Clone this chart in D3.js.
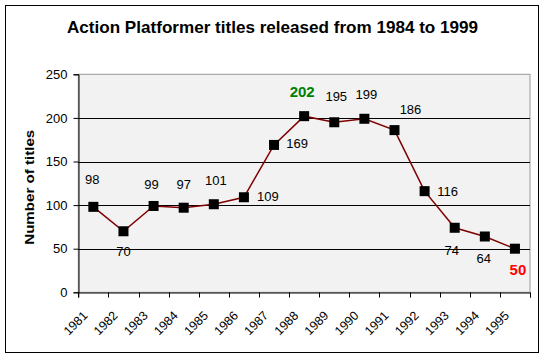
<!DOCTYPE html>
<html><head><meta charset="utf-8">
<script src="https://cdn.jsdelivr.net/npm/d3@7"></script>
<style>
html,body{margin:0;padding:0;background:#fff;}
svg{display:block;font-family:"Liberation Sans",Arial,sans-serif;}
</style></head>
<body>
<svg id="chart" width="546" height="359"></svg>
<script>
const years = ["1981","1982","1983","1984","1985","1986","1987","1988","1989","1990","1991","1992","1993","1994","1995"];
const titles = [98,70,99,97,101,109,169,202,195,199,186,116,74,64,50];
const yTicks = [0,50,100,150,200,250];
const chartTitle = "Action Platformer titles released from 1984 to 1999";
const yAxisTitle = "Number of titles";
// label placement offsets (layout only)
const labelOffsets = [[-1,-27],[0,20],[-2,-22],[0,-23],[2,-24],[24,-1],[23,-1],[-2,-24],[2,-26],[2,-24],[16,-21],[23,0],[-3,23],[-1,22],[3,21]];

const svg = d3.select("#chart");
const L = 78.3, R = 530, T = 74.3, B = 292.3;

svg.append("rect").attr("x",5.5).attr("y",5.5).attr("width",533).attr("height",347)
  .attr("fill","#fff").attr("stroke","#000").attr("stroke-width",1);

svg.append("text").attr("x",67).attr("y",33).attr("text-anchor","start")
  .attr("font-size",17).attr("font-weight","bold")
  .attr("textLength",411).attr("lengthAdjust","spacingAndGlyphs").text(chartTitle);

const x = d3.scaleBand().domain(years).range([L,R]).padding(0);
const y = d3.scaleLinear().domain([0,250]).range([B,T]);

svg.append("rect").attr("x",L).attr("y",T).attr("width",R-L).attr("height",B-T)
  .attr("fill","#f2f2f2").attr("stroke","#999").attr("stroke-width",1);

svg.append("g").selectAll("line").data(yTicks.filter(d=>d>0&&d<250)).join("line")
  .attr("x1",L).attr("x2",R).attr("y1",d=>Math.round(y(d))+0.5).attr("y2",d=>Math.round(y(d))+0.5)
  .attr("stroke","#000").attr("stroke-width",1);

const yAxis = svg.append("g").attr("transform",`translate(${Math.round(L)+0.5},0)`)
  .call(d3.axisLeft(y).tickValues(yTicks).tickSize(5).tickPadding(6));
yAxis.select(".domain").attr("stroke","#000");
yAxis.selectAll("text").attr("font-size",13).attr("fill","#000").attr("font-family","Liberation Sans, Arial, sans-serif");

const xAxis = svg.append("g").attr("transform",`translate(0,${Math.round(B)+0.5})`)
  .call(d3.axisBottom(x).tickSize(5).tickFormat(""));
xAxis.select(".domain").attr("stroke","#000");
xAxis.selectAll(".tick").remove();
const edges = years.map(d=>x(d)).concat([R]);
xAxis.selectAll("line.edge").data(edges).join("line").attr("class","edge")
  .attr("x1",d=>Math.round(d)+0.5).attr("x2",d=>Math.round(d)+0.5).attr("y1",0).attr("y2",5).attr("stroke","#000");

svg.append("g").selectAll("text").data(years).join("text")
  .attr("transform",d=>`translate(${x(d)+x.bandwidth()/2-5},${B+24}) rotate(-45)`)
  .attr("text-anchor","end").attr("font-size",12.5).text(d=>d);

svg.append("text").attr("transform",`translate(34,${(T+B)/2+4}) rotate(-90)`)
  .attr("text-anchor","middle").attr("font-size",13).attr("font-weight","bold")
  .attr("textLength",115).attr("lengthAdjust","spacingAndGlyphs").text(yAxisTitle);

const cx = (d,i)=>x(years[i])+x.bandwidth()/2;
const line = d3.line().x((d,i)=>cx(d,i)).y(d=>y(d));
svg.append("path").datum(titles).attr("d",line).attr("fill","none").attr("stroke","#800000").attr("stroke-width",1.5);

svg.append("g").selectAll("rect").data(titles).join("rect")
  .attr("x",(d,i)=>cx(d,i)-5).attr("y",d=>y(d)-5).attr("width",10).attr("height",10).attr("fill","#000");

const maxV = d3.max(titles), minV = d3.min(titles);
svg.append("g").selectAll("text").data(titles).join("text")
  .attr("x",(d,i)=>cx(d,i)+labelOffsets[i][0]).attr("y",(d,i)=>y(d)+labelOffsets[i][1])
  .attr("dy","0.35em").attr("text-anchor","middle")
  .attr("font-size",d=>(d===maxV||d===minV)?15:13)
  .attr("font-weight",d=>(d===maxV||d===minV)?"bold":"normal")
  .attr("fill",d=>d===maxV?"#008000":d===minV?"#ff0000":"#000")
  .text(d=>d);
</script>
</body></html>
